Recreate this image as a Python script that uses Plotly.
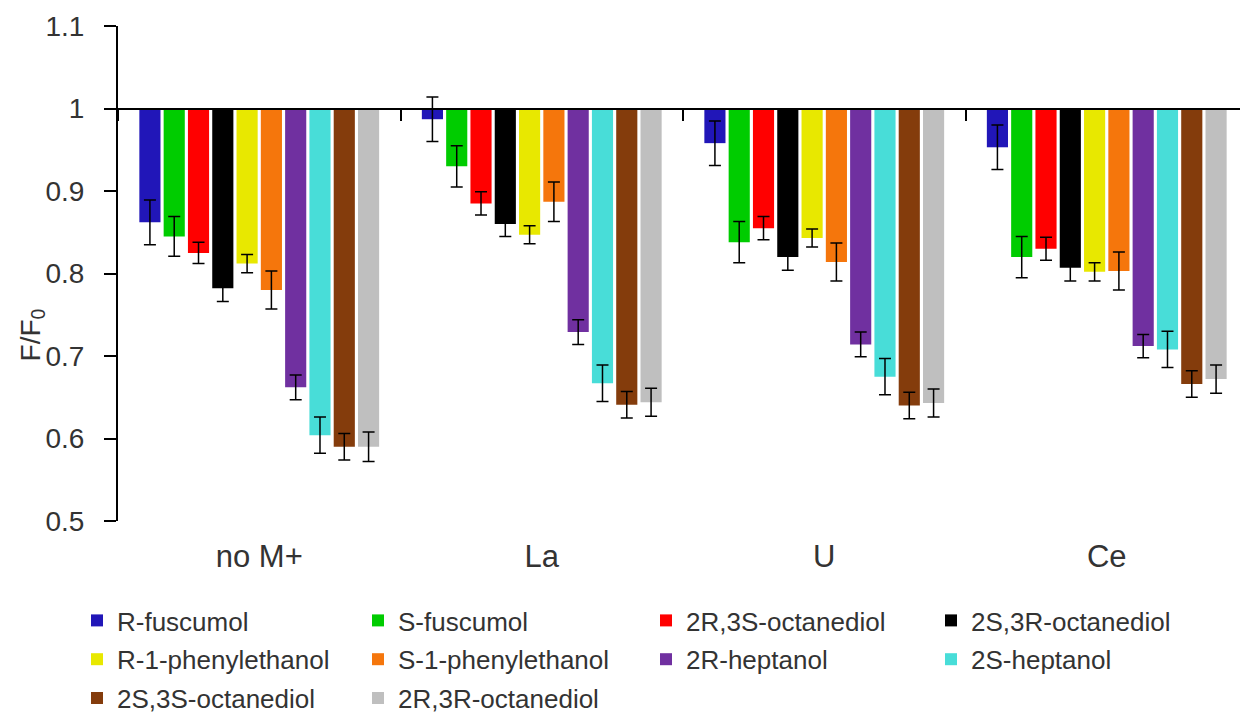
import plotly.graph_objects as go

groups = ["no M+", "La", "U", "Ce"]

series_names = [
    "R-fuscumol", "S-fuscumol", "2R,3S-octanediol", "2S,3R-octanediol",
    "R-1-phenylethanol", "S-1-phenylethanol", "2R-heptanol", "2S-heptanol",
    "2S,3S-octanediol", "2R,3R-octanediol",
]

colors = [
    "#2116B8", "#00CC00", "#FF0000", "#000000", "#E8E800",
    "#F5760C", "#7030A0", "#48DDD8", "#843C0C", "#BFBFBF",
]

# F/F0 values per series: [no M+, La, U, Ce]
r_fuscumol = [0.862, 0.987, 0.958, 0.953]
s_fuscumol = [0.845, 0.930, 0.838, 0.820]
oct_2r3s = [0.825, 0.885, 0.855, 0.830]
oct_2s3r = [0.782, 0.860, 0.820, 0.807]
r_phenyl = [0.812, 0.847, 0.843, 0.802]
s_phenyl = [0.780, 0.887, 0.814, 0.803]
hept_2r = [0.662, 0.729, 0.714, 0.712]
hept_2s = [0.604, 0.667, 0.675, 0.708]
oct_2s3s = [0.590, 0.641, 0.640, 0.666]
oct_2r3r = [0.590, 0.644, 0.643, 0.672]

# error (+/-) per series
err_r_fuscumol = [0.027, 0.027, 0.027, 0.027]
err_s_fuscumol = [0.024, 0.025, 0.025, 0.025]
err_2r3s = [0.013, 0.014, 0.014, 0.014]
err_2s3r = [0.016, 0.015, 0.016, 0.016]
err_r_phenyl = [0.011, 0.011, 0.011, 0.011]
err_s_phenyl = [0.023, 0.024, 0.023, 0.023]
err_hept_2r = [0.015, 0.015, 0.015, 0.014]
err_hept_2s = [0.022, 0.022, 0.022, 0.022]
err_2s3s = [0.016, 0.016, 0.016, 0.016]
err_2r3r = [0.018, 0.017, 0.017, 0.017]

values = [r_fuscumol, s_fuscumol, oct_2r3s, oct_2s3r, r_phenyl,
          s_phenyl, hept_2r, hept_2s, oct_2s3s, oct_2r3r]
errors = [err_r_fuscumol, err_s_fuscumol, err_2r3s, err_2s3r, err_r_phenyl,
          err_s_phenyl, err_hept_2r, err_hept_2s, err_2s3s, err_2r3r]

baseline = 1.0
y_ticks = [0.5, 0.6, 0.7, 0.8, 0.9, 1.0, 1.1]
y_tick_text = ["0.5", "0.6", "0.7", "0.8", "0.9", "1", "1.1"]

FONT = "Liberation Sans, Arial, sans-serif"
TXT = "#333333"

legend_ids = ["legend", "legend2", "legend3", "legend4"]

fig = go.Figure()
for i, (name, vals, errs, col) in enumerate(zip(series_names, values, errors, colors)):
    fig.add_trace(go.Bar(
        name=name,
        x=groups,
        y=[v - baseline for v in vals],
        base=baseline,
        marker=dict(color=col, line=dict(width=0)),
        error_y=dict(type="data", array=errs, symmetric=True,
                     color="#000000", thickness=1.5, width=6),
        legend=legend_ids[i % 4],
        legendgroup=name,
        hoverinfo="skip",
    ))

# helper trace so that the bottom category-label axis is drawn
fig.add_trace(go.Scatter(
    x=list(range(len(groups))), y=[None] * len(groups),
    xaxis="x2", yaxis="y", mode="markers", showlegend=False,
    hoverinfo="skip",
))

# page has an 8px body margin: work in page pixels, convert to figure pixels
OFF = 8
W, H = 1248 - OFF, 713 - OFF
plot_left, plot_right, plot_top, plot_bottom = 118, 1248, 26, 521  # page px
ml = plot_left - OFF
mr = 1248 - plot_right
mt = plot_top - OFF
mb = H - (plot_bottom - OFF)
pw = W - ml - mr
ph = H - mt - mb


def px_x(p):  # page px -> paper fraction
    return (p - OFF - ml) / pw


def px_y(p):
    return (H - mb - (p - OFF)) / ph


legend_common = dict(
    orientation="v", xanchor="left", yanchor="top",
    font=dict(family=FONT, size=26, color=TXT),
    bgcolor="rgba(0,0,0,0)", tracegroupgap=2, itemwidth=30,
)
legend_left_px = [77, 358, 646, 931]  # page px
legend_top = px_y(597)

layout_legends = {}
for lid, lx in zip(legend_ids, legend_left_px):
    layout_legends[lid] = dict(x=px_x(lx), y=legend_top, **legend_common)

y_range = [0.5, 1.1]
x_axis_pos = (baseline - y_range[0]) / (y_range[1] - y_range[0])

fig.update_layout(
    width=W, height=H,
    margin=dict(l=ml, r=mr, t=mt, b=mb, autoexpand=False),
    paper_bgcolor="white", plot_bgcolor="white",
    barmode="group", bargap=0.14, bargroupgap=0.13,
    font=dict(family=FONT, color=TXT),
    showlegend=True,
    xaxis=dict(
        type="category", categoryorder="array", categoryarray=groups,
        range=[-0.5, len(groups) - 0.5],
        anchor="free", position=x_axis_pos,
        showline=True, linecolor="#000000", linewidth=2,
        ticks="outside", tickson="boundaries", ticklen=11, tickwidth=2,
        tickcolor="#000000", showticklabels=False, showgrid=False,
        zeroline=False,
    ),
    xaxis2=dict(
        overlaying="x", anchor="y", side="bottom",
        type="linear", range=[-0.5, len(groups) - 0.5],
        tickmode="array", tickvals=list(range(len(groups))), ticktext=groups,
        showline=False, ticks="", showgrid=False, zeroline=False,
        tickfont=dict(family=FONT, size=31, color=TXT),
        ticklabelstandoff=14,
    ),
    yaxis=dict(
        range=y_range, tickmode="array", tickvals=y_ticks,
        ticktext=y_tick_text,
        showline=True, linecolor="#000000", linewidth=2,
        ticks="outside", ticklen=12, tickwidth=2, tickcolor="#000000",
        showgrid=False, zeroline=False,
        tickfont=dict(family=FONT, size=28, color=TXT),
        ticklabelstandoff=14,
    ),
    annotations=[dict(
        text="F/F<sub>0</sub>", textangle=-90,
        xref="paper", yref="y", x=px_x(32), y=0.725,
        xanchor="center", yanchor="middle", showarrow=False,
        font=dict(family=FONT, size=28, color=TXT),
    )],
    **layout_legends,
)

fig.write_html("out.html")
